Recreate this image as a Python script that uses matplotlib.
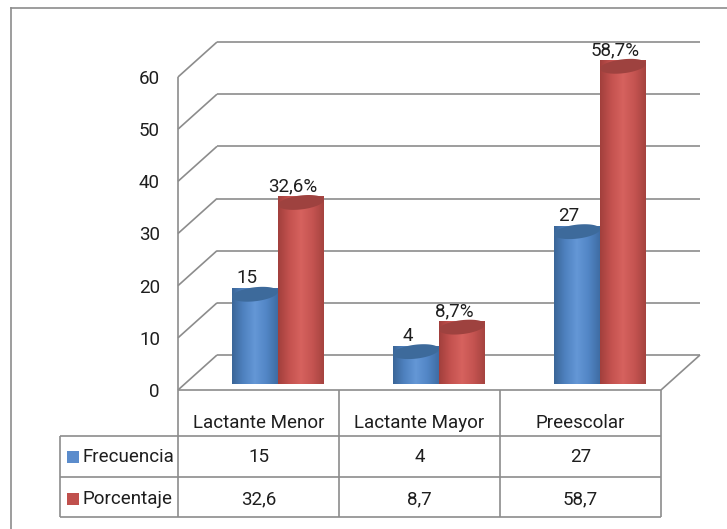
import numpy as np
import matplotlib.pyplot as plt
from matplotlib.patches import Polygon, Rectangle
from matplotlib.colors import LinearSegmentedColormap
from matplotlib.lines import Line2D

categorias = ['Lactante Menor', 'Lactante Mayor', 'Preescolar']
series = ['Frecuencia', 'Porcentaje']
frecuencia = [15, 4, 27]
porcentaje = [32.6, 8.7, 58.7]
yticks = [0, 10, 20, 30, 40, 50, 60]

plt.rcParams['font.family'] = ['Roboto', 'DejaVu Sans']

W, H = 727, 529
fig = plt.figure(figsize=(W / 100, H / 100), dpi=100)

# plano frontal del grafico, en pixeles
x0, x1 = 178, 661
y0, y1 = 390, 77
ax = fig.add_axes([x0 / W, (H - y0) / H, (x1 - x0) / W, (y0 - y1) / H])
ax.set_xlim(0, 3)
ax.set_ylim(0, 60)
ax.set_autoscale_on(False)

pxx = (x1 - x0) / 3
pxy = (y0 - y1) / 60
DX = 39 / pxx   # profundidad 3D
DY = 35 / pxy
gris = '#8c8c8c'
negro = '#1e1e1e'
lw = 1.2
fs = 13.5


def fila(ypx):
    return (y0 - ypx) / pxy


def col(xpx):
    return (xpx - x0) / pxx


def linea(xs, ys, **kw):
    ax.add_line(Line2D(xs, ys, color=gris, lw=lw, clip_on=False,
                       solid_capstyle='butt', **kw))


# paredes y lineas de division
for t in yticks:
    linea([DX, 3 + DX], [t + DY, t + DY])
    linea([0, DX], [t, t + DY])
linea([0, 3], [0, 0])
linea([3, 3 + DX], [0, DY])
linea([0, 0], [0, 60])

ax.set_yticks(yticks)
ax.set_xticks([])
ax.tick_params(axis='y', length=0, pad=13, labelsize=fs, labelcolor=negro)
for s in ax.spines.values():
    s.set_visible(False)
ax.patch.set_visible(False)

# cilindros
colores = {
    'Frecuencia': (['#3a6597', '#4f82c0', '#6497d6', '#5286c6', '#3f6ca3'], '#3d6a9b'),
    'Porcentaje': (['#a13f3c', '#c4524f', '#d6625e', '#c55451', '#a5433f'], '#9e423f'),
}
ancho = 46 / pxx
a = ancho / 2
b = 7 / pxy
base = DY / 2
inclin = 5 / pxy   # el lado derecho queda algo mas alto (perspectiva)
t_bajo = np.linspace(np.pi, 2 * np.pi, 60)
t_todo = np.linspace(0, 2 * np.pi, 120)


def sesgo(pts, cx):
    pts = pts.copy()
    pts[:, 1] += inclin * (pts[:, 0] - cx) / ancho
    return pts


for k, (nombre, valores) in enumerate(zip(series, [frecuencia, porcentaje])):
    stops, tapa = colores[nombre]
    cmap = LinearSegmentedColormap.from_list(nombre, stops)
    grad = np.linspace(0, 1, 256).reshape(1, -1)
    for i, v in enumerate(valores):
        cx = i + 0.5 + (k - 0.5) * ancho + DX / 2
        top = v + base
        pts = np.column_stack([cx + a * np.cos(t_bajo), base + b * np.sin(t_bajo)])
        pts = np.vstack([pts, [cx + a, top], [cx - a, top]])
        cuerpo = Polygon(sesgo(pts, cx), closed=True, facecolor='none',
                         edgecolor='none', transform=ax.transData)
        ax.add_patch(cuerpo)
        im = ax.imshow(grad, cmap=cmap, aspect='auto', interpolation='bilinear',
                       extent=[cx - a, cx + a, base - b - inclin, top + inclin],
                       zorder=3 + 2 * k + i * 0.01, clip_on=False)
        im.set_clip_path(cuerpo)
        cap = np.column_stack([cx + a * np.cos(t_todo), top + b * np.sin(t_todo)])
        ax.add_patch(Polygon(sesgo(cap, cx), closed=True, facecolor=tapa,
                             edgecolor='none', zorder=3.5 + 2 * k + i * 0.01,
                             clip_on=False))
        etiqueta = f'{v}' if nombre == 'Frecuencia' else f'{v:.1f}%'.replace('.', ',')
        ax.annotate(etiqueta, (cx, top), xytext=(-8, 16), textcoords='offset pixels',
                    ha='center', va='center', fontsize=fs, color=negro,
                    annotation_clip=False, zorder=10)

ax.set_xlim(0, 3)
ax.set_ylim(0, 60)

# tabla de datos
izq = col(60)
for yp in [436, 477, 517]:
    linea([izq, 3], [fila(yp), fila(yp)])
linea([izq, izq], [fila(436), fila(517)])
for c in range(4):
    linea([c, c], [fila(390), fila(517)])

for i, cat in enumerate(categorias):
    ax.text(i + 0.5, fila(423), cat, ha='center', va='center', fontsize=fs,
            color=negro)

centros = [457, 499]
claves = ['#5b8ccc', '#c0504d']
for k, (nombre, valores) in enumerate(zip(series, [frecuencia, porcentaje])):
    yc = centros[k]
    ax.add_patch(Rectangle((col(67), fila(yc + 6)), 12 / pxx, 12 / pxy,
                           facecolor=claves[k], edgecolor='none', clip_on=False))
    ax.text(col(83), fila(yc), nombre, ha='left', va='center', fontsize=fs,
            color=negro)
    for i, v in enumerate(valores):
        txt = f'{v}' if k == 0 else f'{v:.1f}'.replace('.', ',')
        ax.text(i + 0.5, fila(yc), txt, ha='center', va='center', fontsize=fs,
                color=negro)

# borde del area del grafico
fig.add_artist(Line2D([11 / W, 11 / W], [0, 1 - 8 / H], color=gris, lw=1.2))
fig.add_artist(Line2D([11 / W, 1], [1 - 8 / H, 1 - 8 / H], color=gris, lw=1.2))

fig.savefig('out.png', dpi=100)
